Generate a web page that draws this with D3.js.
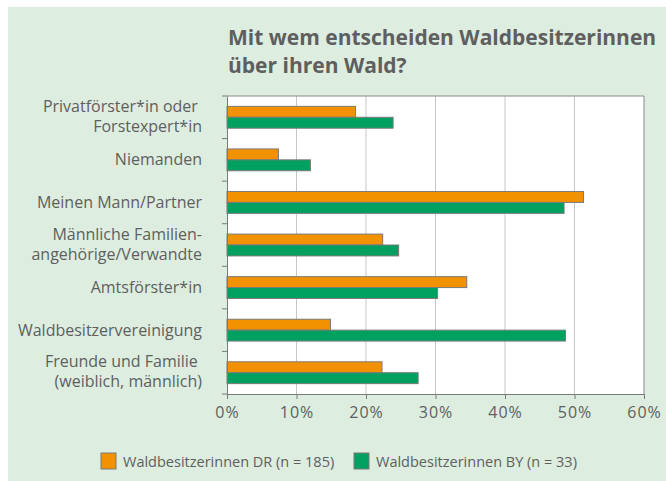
<!DOCTYPE html>
<html>
<head>
<meta charset="utf-8">
<script src="https://cdn.jsdelivr.net/npm/d3@7"></script>
<style>
    body { margin: 0; background: #fff; }
    svg { display: block; font-family: "Open Sans", "Noto Sans", sans-serif; }
</style>
</head>
<body>
<div id="chart"></div>
<script>
// Categories (top to bottom), each as label lines
const categories = [
    ["Privatförster*in oder ", "Forstexpert*in"],
    ["Niemanden"],
    ["Meinen Mann/Partner"],
    ["Männliche Familien-", "angehörige/Verwandte"],
    ["Amtsförster*in"],
    ["Waldbesitzervereinigung"],
    ["Freunde und Familie ", "(weiblich, männlich)"]
];
const seriesNames = ["Waldbesitzerinnen DR (n = 185)", "Waldbesitzerinnen BY (n = 33)"];
const valuesDR = [18.5, 7.4, 51.3, 22.4, 34.5, 14.9, 22.3];
const valuesBY = [23.9, 12.0, 48.5, 24.7, 30.3, 48.7, 27.5];
const xTicks = [0, 10, 20, 30, 40, 50, 60];
const titleLines = ["Mit wem entscheiden Waldbesitzerinnen", "über ihren Wald?"];

const colors = ["#F39200", "#00A160"];
const textColor = "#5f5f5f";

const width = 666;
const height = 481;
const plot = { left: 227, right: 644, top: 96, bottom: 394 };

const svg = d3.select("#chart")
    .append("svg")
    .attr("width", width)
    .attr("height", height);

// Light green background panel
svg.append("rect")
    .attr("x", 8)
    .attr("y", 7)
    .attr("width", width - 8)
    .attr("height", height - 7)
    .attr("fill", "#DDEDE0");

// Title
svg.append("g")
    .selectAll("text")
    .data(titleLines)
    .enter()
    .append("text")
    .attr("x", 228)
    .attr("y", (d, i) => 45 + i * 28)
    .attr("fill", textColor)
    .attr("font-size", 21)
    .attr("font-weight", "bold")
    .text(d => d);

// Scales
const x = d3.scaleLinear()
    .domain([0, 60])
    .range([plot.left, plot.right]);

const y = d3.scaleBand()
    .domain(d3.range(categories.length))
    .range([plot.top, plot.bottom]);

const inner = d3.scaleBand()
    .domain([0, 1])
    .range([0, y.bandwidth()])
    .paddingInner(0)
    .paddingOuter(0.95);

// Plot area
svg.append("rect")
    .attr("x", plot.left)
    .attr("y", plot.top)
    .attr("width", plot.right - plot.left)
    .attr("height", plot.bottom - plot.top)
    .attr("fill", "#fff");

// Gridlines
svg.append("g")
    .selectAll("line")
    .data(xTicks.slice(1, -1))
    .enter()
    .append("line")
    .attr("x1", d => x(d))
    .attr("x2", d => x(d))
    .attr("y1", plot.top)
    .attr("y2", plot.bottom)
    .attr("stroke", "#c6c6c6")
    .attr("stroke-width", 1);

// Plot border top/right
svg.append("path")
    .attr("d", `M${plot.left},${plot.top}H${plot.right}V${plot.bottom}`)
    .attr("fill", "none")
    .attr("stroke", "#8a8a8a")
    .attr("stroke-width", 1);

// Bars
const rows = categories.map((c, i) => ({ i, vals: [valuesDR[i], valuesBY[i]] }));
const group = svg.append("g")
    .selectAll("g")
    .data(rows)
    .enter()
    .append("g")
    .attr("transform", d => `translate(0, ${y(d.i)})`);

group.selectAll("rect")
    .data(d => d.vals.map((v, s) => ({ v, s })))
    .enter()
    .append("rect")
    .attr("x", x(0))
    .attr("y", d => inner(d.s))
    .attr("width", d => x(d.v) - x(0))
    .attr("height", inner.bandwidth())
    .attr("fill", d => colors[d.s])
    .attr("stroke", "#7a7a7a")
    .attr("stroke-width", 1);

// Y axis
const yAxis = svg.append("g")
    .attr("transform", `translate(${plot.left}, 0)`)
    .call(d3.axisLeft(y).tickSize(0).tickFormat(""));
yAxis.select(".domain").attr("stroke", "#7a7a7a");
yAxis.append("g")
    .selectAll("line")
    .data(d3.range(categories.length + 1))
    .enter()
    .append("line")
    .attr("x1", -5)
    .attr("x2", 0)
    .attr("y1", d => plot.top + d * y.step())
    .attr("y2", d => plot.top + d * y.step())
    .attr("stroke", "#7a7a7a");

// Category labels
const labels = svg.append("g")
    .selectAll("text")
    .data(categories)
    .enter()
    .append("text")
    .attr("text-anchor", "end")
    .attr("fill", textColor)
    .attr("font-size", 16)
    .style("white-space", "pre");

labels.each(function(lines, i) {
    const cy = y(i) + y.bandwidth() / 2;
    const start = cy + 5.5 - (lines.length - 1) * 11;
    d3.select(this).selectAll("tspan")
        .data(lines)
        .enter()
        .append("tspan")
        .attr("x", 202)
        .attr("y", (d, k) => start + k * 20)
        .text(d => d);
});

// X axis
const xAxis = svg.append("g")
    .attr("transform", `translate(0, ${plot.bottom})`)
    .call(d3.axisBottom(x)
        .tickValues(xTicks)
        .tickSize(5)
        .tickPadding(8)
        .tickFormat(d => d + "%"));
xAxis.select(".domain").attr("stroke", "#7a7a7a");
xAxis.selectAll(".tick line").attr("stroke", "#7a7a7a");
xAxis.selectAll(".tick text")
    .attr("fill", textColor)
    .attr("font-size", 16)
    .attr("letter-spacing", 1)
    .attr("font-family", "\"Open Sans\", \"Noto Sans\", sans-serif");

// Legend
const legendX = [101, 354];
const legend = svg.append("g")
    .selectAll("g")
    .data(seriesNames)
    .enter()
    .append("g")
    .attr("transform", (d, i) => `translate(${legendX[i]}, 453)`);

legend.append("rect")
    .attr("width", 15)
    .attr("height", 16)
    .attr("fill", (d, i) => colors[i])
    .attr("stroke", "#7a7a7a");

legend.append("text")
    .attr("x", 22)
    .attr("y", 14)
    .attr("fill", textColor)
    .attr("font-size", 14.5)
    .text(d => d);
</script>
</body>
</html>
